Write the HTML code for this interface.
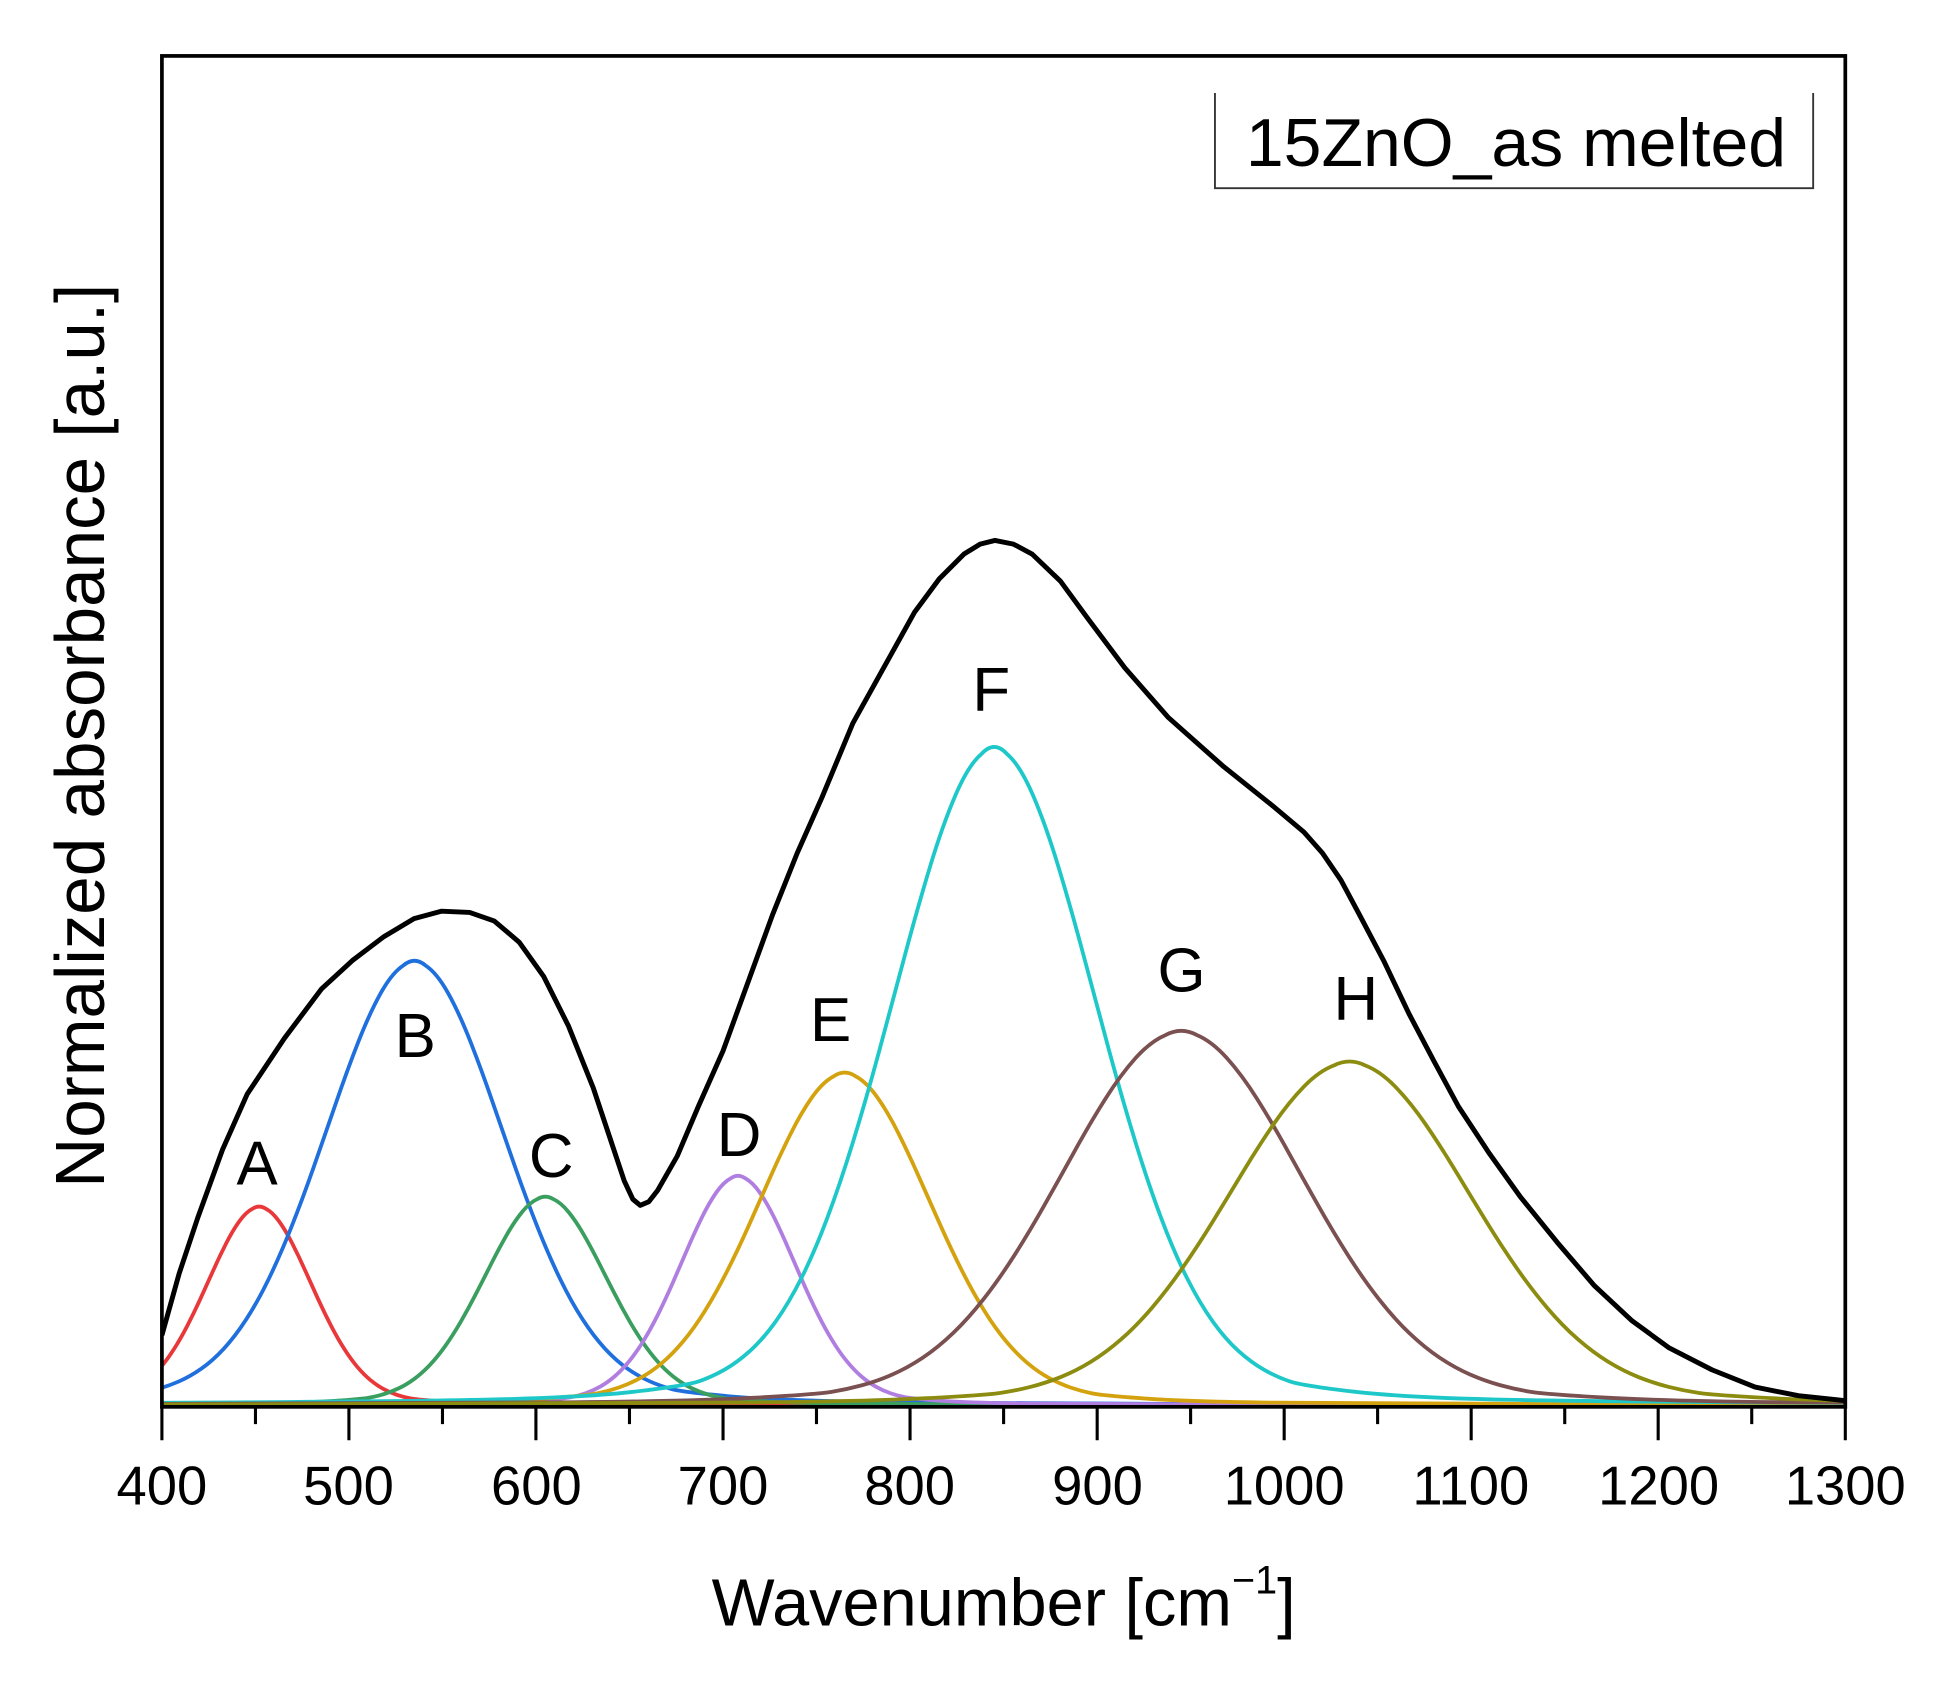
<!DOCTYPE html>
<html><head><meta charset="utf-8"><style>html,body{margin:0;padding:0;background:#fff}svg{display:block}</style></head>
<body>
<svg width="1938" height="1684" viewBox="0 0 1568 1362" xmlns="http://www.w3.org/2000/svg" xmlns:xlink="http://www.w3.org/1999/xlink" font-family="Liberation Sans, Arial, sans-serif">
<defs>
<clipPath id="cp"><rect x="131" y="45" width="1362" height="1093"/></clipPath>
<path id="g" d="M-12 -0.0015 L-9 -0.00355 Q-6 -0.0056 -5 -0.0088 Q-4 -0.012 -3.5 -0.021 Q-3 -0.03 -2.875 -0.0365 Q-2.75 -0.043 -2.625 -0.054 Q-2.5 -0.065 -2.375 -0.0825 Q-2.25 -0.1 -2.125 -0.127 Q-2 -0.154 -1.875 -0.1925 Q-1.75 -0.231 -1.625 -0.2825 Q-1.5 -0.334 -1.375 -0.397 Q-1.25 -0.46 -1.125 -0.5315 Q-1 -0.603 -0.875 -0.676 Q-0.75 -0.749 -0.625 -0.813 Q-0.5 -0.877 -0.375 -0.922 Q-0.25 -0.967 -0.125 -0.9835 Q0 -1.005 0.125 -0.9835 Q0.25 -0.967 0.375 -0.922 Q0.5 -0.877 0.625 -0.813 Q0.75 -0.749 0.875 -0.676 Q1 -0.603 1.125 -0.5315 Q1.25 -0.46 1.375 -0.397 Q1.5 -0.334 1.625 -0.2825 Q1.75 -0.231 1.875 -0.1925 Q2 -0.154 2.125 -0.127 Q2.25 -0.1 2.375 -0.0825 Q2.5 -0.065 2.625 -0.054 Q2.75 -0.043 2.875 -0.0365 Q3 -0.03 3.5 -0.021 Q4 -0.012 5 -0.0088 Q6 -0.0056 9 -0.00355 L12 -0.0015" fill="none" vector-effect="non-scaling-stroke" stroke-linejoin="round"/>
</defs>
<rect width="1568" height="1362" fill="#fff"/>
<g clip-path="url(#cp)" fill="none" stroke-width="3.8">
<use xlink:href="#g" stroke="#e8383a" transform="translate(209.7,1137) scale(42.4,162)"/>
<use xlink:href="#g" stroke="#1f6fdd" transform="translate(335.3,1137) scale(72.6,362)"/>
<use xlink:href="#g" stroke="#3a9e5f" transform="translate(441.2,1137) scale(49.9,170)"/>
<use xlink:href="#g" stroke="#b07ee0" transform="translate(597.1,1137) scale(46.9,187)"/>
<use xlink:href="#g" stroke="#d4a20e" transform="translate(683.4,1137) scale(69.6,271)"/>
<use xlink:href="#g" stroke="#1ec8c8" transform="translate(804.4,1137) scale(83.2,536)"/>
<use xlink:href="#g" stroke="#7a5050" transform="translate(955.7,1137) scale(98.4,305)"/>
<use xlink:href="#g" stroke="#8c8c10" transform="translate(1091.9,1137) scale(98.4,280)"/>
<path d="M131 1080 L145 1030 L160 985 L180 930 L200 885 L230 840 L260 800 L285 777 L310 758 L335 743 L357 737 L380 738 L400 745 L420 762 L440 790 L460 830 L480 880 L495 925 L505 955 L512 970 L518 975 L525 972 L532 963 L548 935 L565 895 L585 850 L605 795 L625 740 L645 690 L665 645 L690 585 L715 540 L740 495 L760 468 L780 448 L793 440 L805 437 L820 440 L835 448 L858 470 L880 500 L910 540 L945 580 L990 620 L1030 652 L1055 673 L1070 690 L1085 712 L1100 740 L1120 778 L1140 820 L1160 858 L1180 895 L1205 933 L1230 968 L1260 1005 L1290 1040 L1320 1068 L1350 1090 L1385 1108 L1420 1122 L1455 1129 L1493 1133" stroke="#000" stroke-width="4" stroke-linejoin="round"/>
</g>
<rect x="131" y="45" width="1362" height="1093" fill="none" stroke="#000" stroke-width="3"/>
<g stroke="#000" stroke-width="2.5">
<path d="M131 1138V1165M282.3 1138V1165M433.6 1138V1165M585 1138V1165M736.3 1138V1165M887.7 1138V1165M1039 1138V1165M1190.3 1138V1165M1341.6 1138V1165M1493 1138V1165"/>
<path d="M206.7 1138V1152M358 1138V1152M509.3 1138V1152M660.6 1138V1152M812 1138V1152M963.3 1138V1152M1114.6 1138V1152M1266 1138V1152M1417.3 1138V1152"/>
</g>
<g font-size="44" text-anchor="middle" fill="#000">
<text x="131" y="1217">400</text><text x="282" y="1217">500</text><text x="434" y="1217">600</text><text x="585" y="1217">700</text><text x="736" y="1217">800</text><text x="888" y="1217">900</text><text x="1039" y="1217">1000</text><text x="1190" y="1217">1100</text><text x="1342" y="1217">1200</text><text x="1493" y="1217">1300</text>
</g>
<text x="812" y="1315" font-size="54" text-anchor="middle">Wavenumber [cm<tspan font-size="32" dy="-26">−1</tspan><tspan dy="26">]</tspan></text>
<text transform="translate(84,595) rotate(-90)" font-size="56" text-anchor="middle">Normalized absorbance [a.u.]</text>
<g font-size="50" text-anchor="middle">
<text x="208" y="958">A</text><text x="336" y="855">B</text><text x="446" y="952">C</text><text x="598" y="935">D</text><text x="672" y="842">E</text><text x="802" y="575">F</text><text x="956" y="802">G</text><text x="1097" y="825">H</text>
</g>
<path d="M983 75 V152 H1467 V75" fill="none" stroke="#333" stroke-width="1.5"/>
<text x="1008" y="134" font-size="55">15ZnO_as melted</text>
</svg>
</body></html>
